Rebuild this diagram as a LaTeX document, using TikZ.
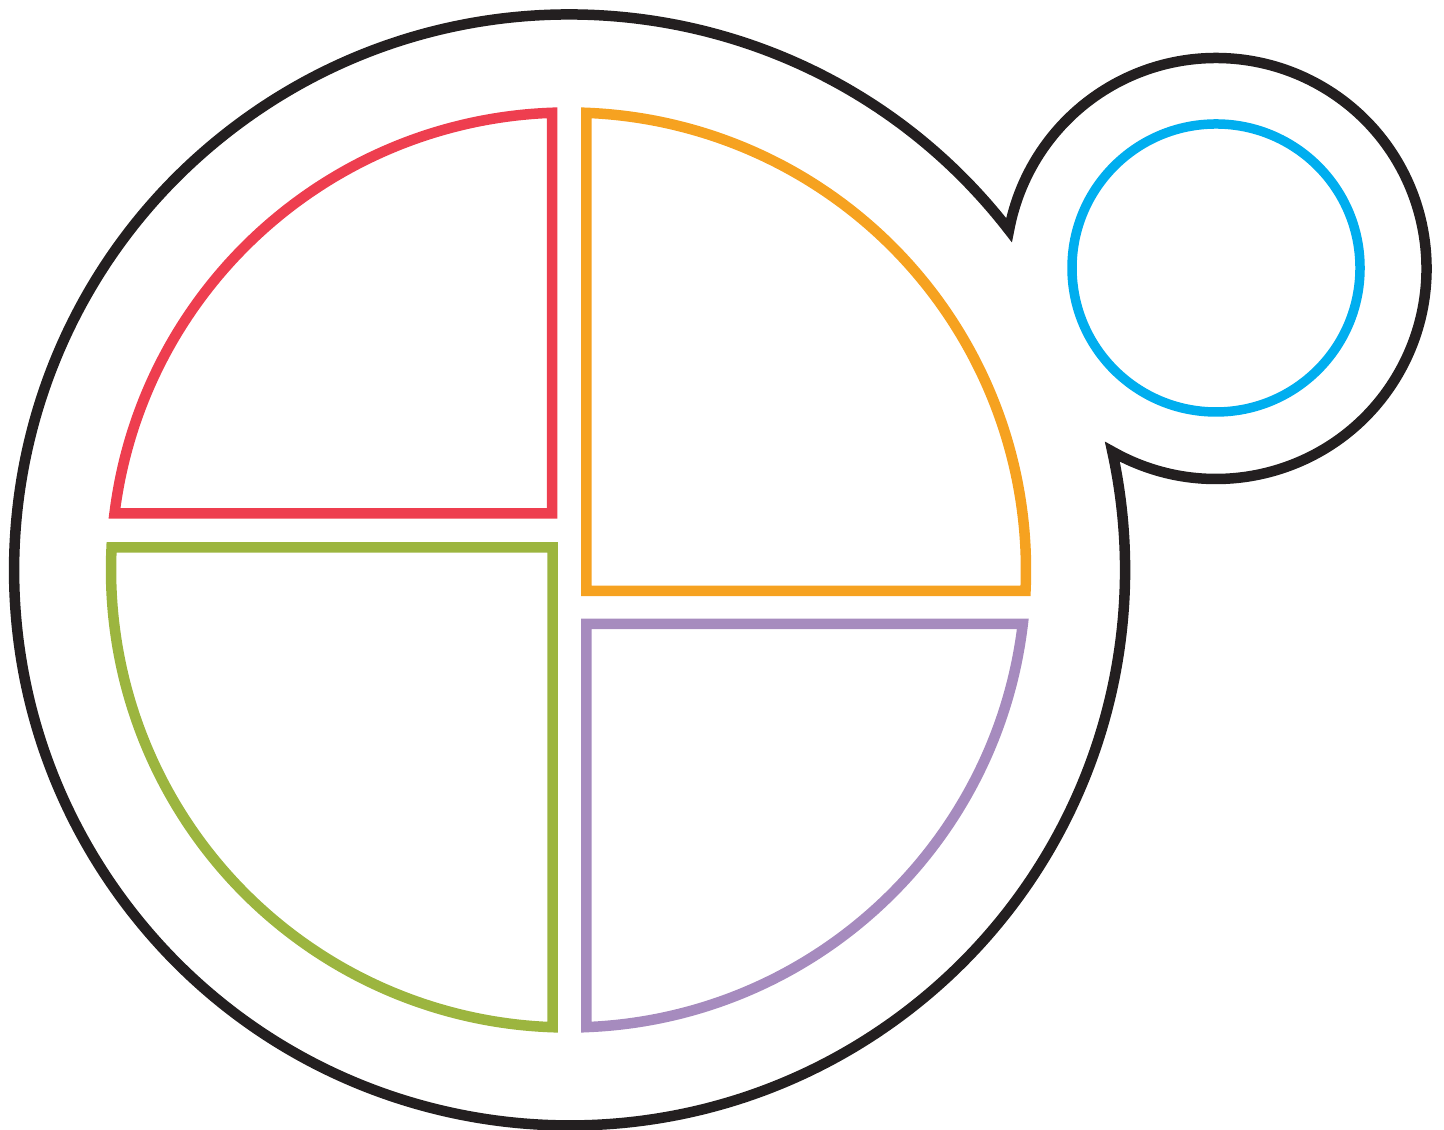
\documentclass[tikz,border=0pt]{standalone}
\usetikzlibrary{calc}
\definecolor{plateblack}{HTML}{231F20}
\definecolor{platered}{HTML}{EE3E4F}
\definecolor{plateorange}{HTML}{F6A220}
\definecolor{plategreen}{HTML}{9CB53F}
\definecolor{platepurple}{HTML}{A68BBE}
\definecolor{plateblue}{HTML}{00AEEF}
\tikzset{
  outline/.style={draw=plateblack, line width=0.105cm, line join=miter, miter limit=20},
  sector/.style={line width=0.105cm, line join=miter, miter limit=20},
}
\begin{document}
\begin{tikzpicture}
\useasboundingbox (0,0) rectangle (14.44,11.30);
\def\BR{5.555}
\def\SR{2.105}
\coordinate (B) at (5.695,5.60);
\coordinate (S) at (12.16,8.615);
\coordinate (A) at (5.685,5.60);
% intersection angles of the plate circle and the cup circle
\pgfmathsetmacro\dd{veclen(6.465,3.015)}
\pgfmathsetmacro\ph{atan2(3.015,6.465)}
\pgfmathsetmacro\al{acos((\BR*\BR+\dd*\dd-\SR*\SR)/(2*\BR*\dd))}
\pgfmathsetmacro\be{acos((\SR*\SR+\dd*\dd-\BR*\BR)/(2*\SR*\dd))}
\pgfmathsetmacro\ba{\ph+\al}
\pgfmathsetmacro\bb{\ph-\al+360}
\pgfmathsetmacro\sa{\ph+180+\be}
\pgfmathsetmacro\sb{\ph+180-\be+360}
\pgfmathsetmacro\bc{\ba+6}
% plate and cup outline (union of two circles)
\draw[outline] ($(S)+(\sb:\SR)$)
  arc[start angle=\ba, end angle=\bb, radius=\BR]
  arc[start angle=\sa, end angle=\sb, radius=\SR]
  arc[start angle=\ba, end angle=\bc, radius=\BR];
% cup inner circle
\draw[draw=plateblue, line width=0.095cm] (12.16,8.62) circle[radius=1.44];
% sectors
\def\ar{4.575}
\begin{scope}[shift={(A)}]
  \pgfmathsetmacro\ra{90+asin(0.165/\ar)}
  \pgfmathsetmacro\rb{180-asin(0.567/\ar)}
  \draw[sector, draw=platered] (-0.165,0.567) -- (\ra:\ar) arc[start angle=\ra, end angle=\rb, radius=\ar] -- cycle;
  \pgfmathsetmacro\oa{-asin(0.21/\ar)}
  \pgfmathsetmacro\ob{90-asin(0.178/\ar)}
  \draw[sector, draw=plateorange] (0.178,-0.21) -- (\oa:\ar) arc[start angle=\oa, end angle=\ob, radius=\ar] -- cycle;
  \pgfmathsetmacro\ga{180-asin(0.225/\ar)}
  \pgfmathsetmacro\gb{270-asin(0.16/\ar)}
  \draw[sector, draw=plategreen] (-0.16,0.225) -- (\ga:\ar) arc[start angle=\ga, end angle=\gb, radius=\ar] -- cycle;
  \pgfmathsetmacro\pa{270+asin(0.178/\ar)}
  \pgfmathsetmacro\pb{360-asin(0.54/\ar)}
  \draw[sector, draw=platepurple] (0.178,-0.54) -- (\pa:\ar) arc[start angle=\pa, end angle=\pb, radius=\ar] -- cycle;
\end{scope}
\end{tikzpicture}
\end{document}
